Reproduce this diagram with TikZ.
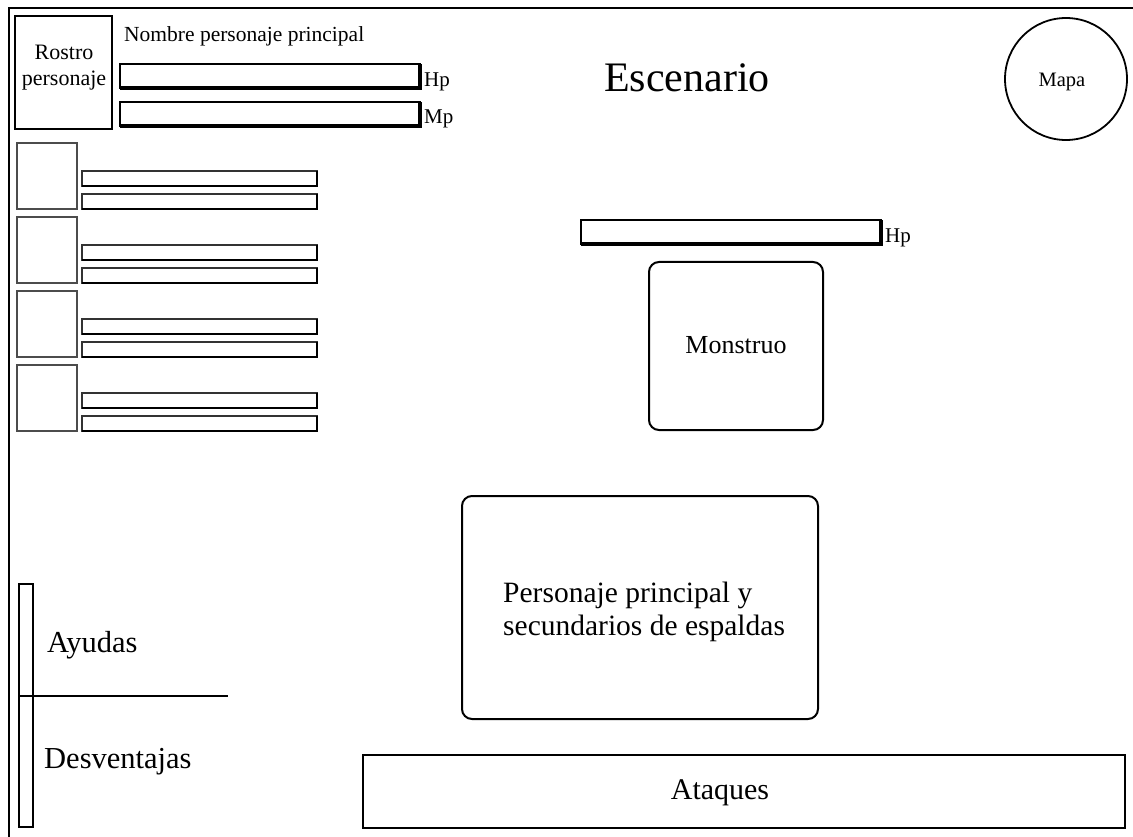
\documentclass[tikz,border=0pt]{standalone}
\usepackage{fontspec}
\setmainfont{Liberation Serif}
\tikzset{
  frameline/.style={line width=2.4pt, black},
  facebox/.style={draw=black, line width=2pt},
  thinbox/.style={draw=black!70, line width=1.3pt},
  barface/.style={draw=black, line width=2.6pt, fill=white},
  barshade/.style={draw=black, line width=4.2pt},
  minibar/.style={draw=black!80, line width=1.5pt, fill=white},
  minishade/.style={draw=black, line width=2.8pt},
  softbox/.style={draw=black, line width=2pt, rounded corners=10pt},
  plainbox/.style={draw=black, line width=2.4pt},
  label/.style={inner sep=0pt, text=black},
}
% bar with a heavy lower and right edge
\newcommand\DrawBigBar[4]{%
  \draw[barface] (#1,#2) rectangle (#3,#4);
  \draw[barshade] (#1,#4) -- (#3,#4) -- (#3,#2);}
\newcommand\DrawMiniBar[4]{%
  \draw[minibar] (#1,#2) rectangle (#3,#4);
  \draw[minishade] (#1,#4) -- (#3,#4) -- (#3,#2);}
\begin{document}
\begin{tikzpicture}[x=1pt, y=-1pt]
  \useasboundingbox (0,0) rectangle (1133,837);
  \fill[white] (0,0) rectangle (1133,837);

  % outer frame (left and top edges)
  \draw[frameline] (9,837) -- (9,8) -- (1133,8);

  % portrait of the main character
  \draw[facebox] (15,16) rectangle (112,129);
  \node[label, anchor=base, font=\fontsize{22}{25}\selectfont] (rostro) at (64,60) {Rostro};
  \node[label, anchor=base, font=\fontsize{22}{25}\selectfont] (personaje) at (64,86) {personaje};

  % name and status bars
  \node[label, anchor=base west, font=\fontsize{21.5}{24}\selectfont] (nombre) at (124,42) {Nombre personaje principal};
  \DrawBigBar{120}{64}{420}{88}
  \DrawBigBar{120}{102}{420}{126}
  \node[label, anchor=base west, font=\fontsize{21}{24}\selectfont] (hpmain) at (424,87) {Hp};
  \node[label, anchor=base west, font=\fontsize{21}{24}\selectfont] (mpmain) at (424,124) {Mp};

  % party members
  \foreach \i in {0,...,3} {
    \pgfmathsetmacro\ytop{143+74*\i}
    \draw[thinbox] (17,\ytop) rectangle (77,\ytop+66);
    \DrawMiniBar{82}{\ytop+28}{317}{\ytop+43}
    \DrawMiniBar{82}{\ytop+51}{317}{\ytop+66}
  }

  % scene title
  \node[label, anchor=base, font=\fontsize{42}{48}\selectfont] (escenario) at (687,92) {Escenario};

  % map
  \draw[black, line width=1.8pt] (1066,79) circle (61);
  \node[label, anchor=base, font=\fontsize{20.5}{24}\selectfont] (mapa) at (1062,87) {Mapa};

  % monster and its bar
  \DrawBigBar{581}{220}{881}{244}
  \node[label, anchor=base west, font=\fontsize{21}{24}\selectfont] (hpmonster) at (885,243) {Hp};
  \draw[softbox] (649,262) rectangle (823,430);
  \node[label, anchor=base, font=\fontsize{26}{30}\selectfont] (monstruo) at (736,353) {Monstruo};

  % party seen from behind
  \draw[softbox] (462,496) rectangle (818,719);
  \node[label, anchor=base west, font=\fontsize{29.5}{33}\selectfont] (party1) at (503,602) {Personaje principal y};
  \node[label, anchor=base west, font=\fontsize{29.5}{33}\selectfont] (party2) at (503,635) {secundarios de espaldas};

  % attacks panel
  \draw[plainbox] (363,755) rectangle (1125,828);
  \node[label, anchor=base, font=\fontsize{30}{34}\selectfont] (ataques) at (720,799) {Ataques};

  % helps / drawbacks column
  \draw[black, line width=1.8pt] (19,584) rectangle (33,827);
  \draw[black, line width=2pt] (19,696) -- (228,696);
  \node[label, anchor=base west, font=\fontsize{30.5}{34}\selectfont] (ayudas) at (47,652) {Ayudas};
  \node[label, anchor=base west, font=\fontsize{30.5}{34}\selectfont] (desventajas) at (44,768) {Desventajas};
\end{tikzpicture}
\end{document}
